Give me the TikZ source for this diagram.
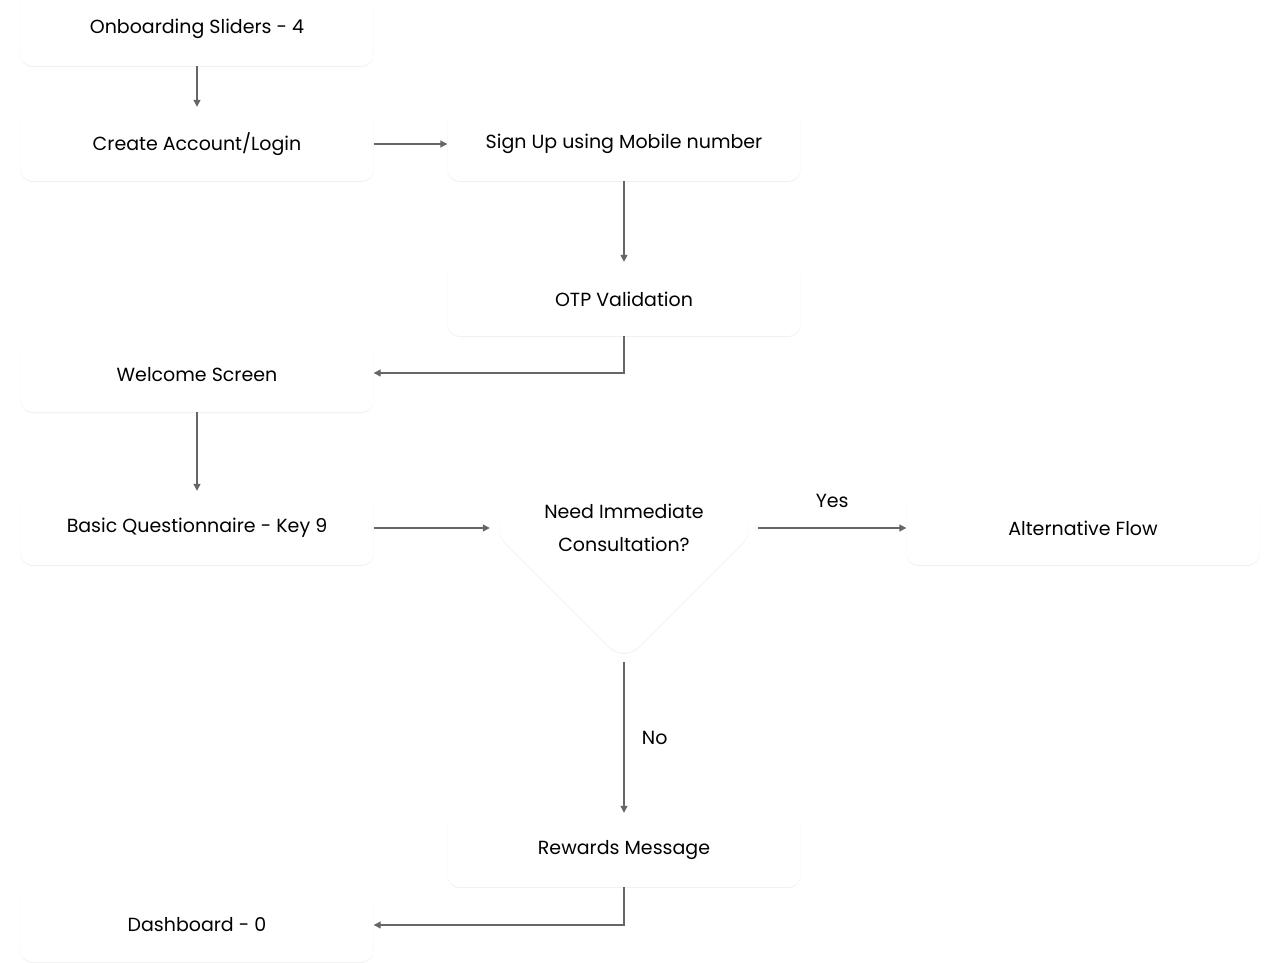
\documentclass[tikz,border=0pt]{standalone}
\usepackage{fontspec}
\setmainfont{Poppins}
\usetikzlibrary{shapes.geometric,shadows,arrows.meta}
\tikzset{
  box/.style={draw=none, fill=white, rounded corners=12pt, minimum width=353pt, minimum height=74pt,
    font=\fontsize{19}{23}\selectfont, drop shadow={shadow xshift=0pt, shadow yshift=-1pt, opacity=0.06, fill=black}},
  decide/.style={diamond, draw=none, fill=white, rounded corners=22pt, minimum width=268pt, minimum height=268pt,
    align=center, font=\fontsize{19}{33}\selectfont, drop shadow={shadow xshift=0pt, shadow yshift=-1pt, opacity=0.06, fill=black}},
  flow/.style={-{Triangle[length=7pt,width=7pt]}, draw=black!60, line width=1.2pt},
  lbl/.style={font=\fontsize{19}{23}\selectfont}
}
\begin{document}
\begin{tikzpicture}[x=1pt,y=-1pt]
  \useasboundingbox[fill=white] (0,0) rectangle (1280,963);
  % boxes
  \node[box] (slides) at (197,29) {Onboarding Sliders - 4};
  \node[box] (login) at (197,144) {Create Account/Login};
  \node[box] (signup) at (624,144) {Sign Up using Mobile number};
  \node[box] (otp) at (624,299) {OTP Validation};
  \node[box] (welcome) at (197,375) {Welcome Screen};
  \node[box] (quest) at (197,528) {Basic Questionnaire - Key 9};
  \node[decide] (need) at (624,528) {Need Immediate\\ Consultation?};
  \node[box] (alt) at (1083,528) {Alternative Flow};
  \node[box] (reward) at (624,850) {Rewards Message};
  \node[box] (dash) at (197,925) {Dashboard - 0};

  % connectors
  \draw[flow] (slides.south) -- (login.north);
  \draw[flow] (login.east) -- (signup.west);
  \draw[flow] (signup.south) -- (otp.north);
  \draw[flow] (otp.south) |- ([yshift=2pt]welcome.east);
  \draw[flow] (welcome.south) -- (quest.north);
  \draw[flow] (quest.east) -- (need.west);
  \draw[flow] (need.east) -- node[lbl, above=16pt] {Yes} (alt.west);
  \draw[flow] (need.south) -- node[lbl, right=14pt] {No} (reward.north);
  \draw[flow] (reward.south) |- (dash.east);
\end{tikzpicture}
\end{document}
